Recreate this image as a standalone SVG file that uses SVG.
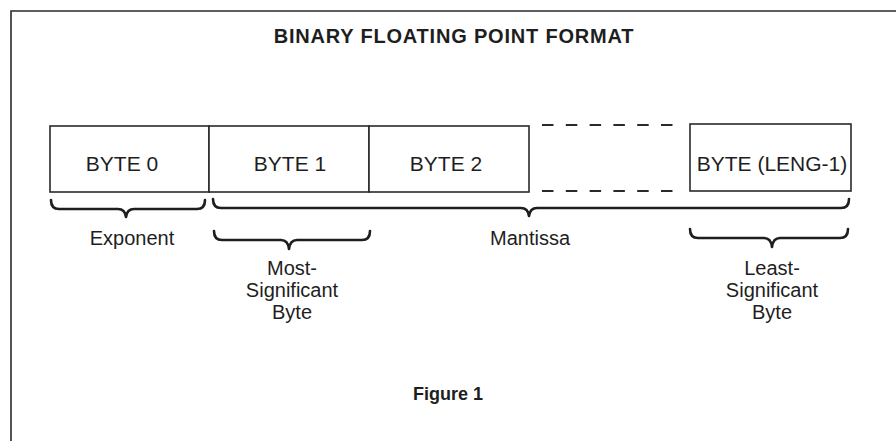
<svg xmlns="http://www.w3.org/2000/svg" width="896" height="441" viewBox="0 0 896 441">
  <style>
    .frame { fill: none; stroke: #2a2a2a; stroke-width: 1.6; }
    .box { fill: #ffffff; stroke: #2a2a2a; stroke-width: 1.6; }
    .dash { fill: none; stroke: #2a2a2a; stroke-width: 1.8; stroke-dasharray: 11.5 12.3; }
    .brace { fill: none; stroke: #1e1e1e; stroke-width: 2.6; stroke-linejoin: round; stroke-linecap: round; }
    .label { font-family: "Liberation Sans", Arial, sans-serif; font-size: 20px; fill: #1e1e1e; text-anchor: middle; }
    .cell { font-family: "Liberation Sans", Arial, sans-serif; font-size: 21px; fill: #1e1e1e; text-anchor: middle; }
    .title { font-family: "Liberation Sans", Arial, sans-serif; font-size: 20px; font-weight: bold; fill: #1e1e1e; text-anchor: middle; letter-spacing: 0.8px; }
    .caption { font-family: "Liberation Sans", Arial, sans-serif; font-size: 18px; font-weight: bold; fill: #1e1e1e; text-anchor: middle; }
  </style>

  <rect width="896" height="441" fill="#ffffff"/>

  <!-- outer frame, open to the right and bottom edges -->
  <path class="frame" d="M11,441 V11 H896"/>

  <text class="title" x="454" y="43">BINARY FLOATING POINT FORMAT</text>

  <!-- byte cells -->
  <g id="byte0">
    <rect class="box" x="50" y="126" width="159" height="66"/>
    <text class="cell" x="122" y="171">BYTE 0</text>
  </g>
  <g id="byte1">
    <rect class="box" x="209" y="126" width="160" height="66"/>
    <text class="cell" x="290" y="171">BYTE 1</text>
  </g>
  <g id="byte2">
    <rect class="box" x="369" y="126" width="160" height="66"/>
    <text class="cell" x="446" y="171">BYTE 2</text>
  </g>
  <g id="byteLast">
    <rect class="box" x="690" y="124" width="161" height="67"/>
    <text class="cell" x="772" y="171">BYTE (LENG-1)</text>
  </g>

  <!-- elided bytes between BYTE 2 and the last byte -->
  <g id="gap">
    <line class="dash" x1="542" y1="125" x2="674" y2="125"/>
    <line class="dash" x1="542" y1="191" x2="674" y2="191"/>
  </g>

  <!-- braces grouping the bytes -->
  <g id="connectors">
    <path id="brace-exponent" class="brace" d="M51,200 Q51,209 59,209 H118 Q125,209 126,217 Q127,209 134,209 H197 Q205,209 205,200"/>
    <path id="brace-mantissa" class="brace" d="M213,199 Q213,208 221,208 H521 Q528,208 529,216 Q530,208 537,208 H841 Q849,208 849,199"/>
    <path id="brace-msb" class="brace" d="M214,231 Q214,240 222,240 H281 Q288,240 289,249 Q290,240 297,240 H362 Q370,240 370,231"/>
    <path id="brace-lsb" class="brace" d="M690,229 Q690,238 698,238 H764 Q771,238 772,247 Q773,238 780,238 H840 Q848,238 848,229"/>
  </g>

  <g id="exponent">
    <text class="label" x="132" y="245">Exponent</text>
  </g>
  <g id="mantissa">
    <text class="label" x="530" y="245">Mantissa</text>
  </g>
  <g id="most-significant">
    <text class="label" x="292" y="275">Most-</text>
    <text class="label" x="292" y="297">Significant</text>
    <text class="label" x="292" y="319">Byte</text>
  </g>
  <g id="least-significant">
    <text class="label" x="772" y="275">Least-</text>
    <text class="label" x="772" y="297">Significant</text>
    <text class="label" x="772" y="319">Byte</text>
  </g>

  <text class="caption" x="448" y="400">Figure 1</text>
</svg>
